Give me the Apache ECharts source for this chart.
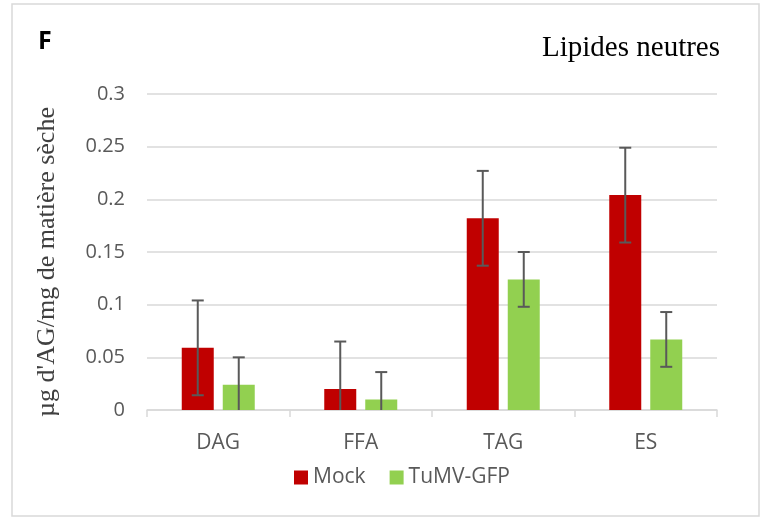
<!DOCTYPE html>
<html>
<head>
<meta charset="utf-8">
<script src="https://cdn.jsdelivr.net/npm/echarts@6/dist/echarts.min.js"></script>
<style>
html,body{margin:0;padding:0;background:#fff;}
#chart{width:761px;height:517px;}
</style>
</head>
<body>
<div id="chart"></div>
<script>
var categories = ['DAG', 'FFA', 'TAG', 'ES'];
var mockValues = [0.059, 0.020, 0.182, 0.204];
var tumvValues = [0.024, 0.010, 0.124, 0.067];
var mockErrors = [0.045, 0.045, 0.045, 0.045];
var tumvErrors = [0.026, 0.026, 0.026, 0.026];
var seriesNames = ['Mock', 'TuMV-GFP'];
var yTickValues = [0, 0.05, 0.1, 0.15, 0.2, 0.25, 0.3];

var BAR_W = 32, BAR_GAP = 9;
var font = '"Open Sans", sans-serif';

function errData(vals, errs) {
  return vals.map(function (v, i) { return [i, v - errs[i], v + errs[i]]; });
}
function makeErrRender(offset) {
  return function (params, api) {
    var i = api.value(0), lo = api.value(1), hi = api.value(2);
    var capBottom = lo >= 0;
    var top = api.coord([i, hi]);
    var bot = api.coord([i, Math.max(lo, 0)]);
    var x = top[0] + offset;
    var half = 6;
    var children = [
      {type: 'line', shape: {x1: x, y1: top[1], x2: x, y2: bot[1]}, style: {stroke: '#595959', lineWidth: 2}},
      {type: 'line', shape: {x1: x - half, y1: top[1], x2: x + half, y2: top[1]}, style: {stroke: '#595959', lineWidth: 2}}
    ];
    if (capBottom) {
      children.push({type: 'line', shape: {x1: x - half, y1: bot[1], x2: x + half, y2: bot[1]}, style: {stroke: '#595959', lineWidth: 2}});
    }
    return {type: 'group', children: children};
  };
}

var chart = echarts.init(document.getElementById('chart'), null, {renderer: 'canvas'});
var off = (BAR_W + BAR_GAP) / 2;
chart.setOption({
  animation: false,
  backgroundColor: '#ffffff',
  grid: {left: 147, right: 44, top: 94, bottom: 107, containLabel: false},
  legend: {
    data: seriesNames,
    left: 289, top: 462,
    itemWidth: 14, itemHeight: 14, itemGap: 24,
    icon: 'rect',
    textStyle: {fontFamily: font, fontSize: 21, color: '#595959'}
  },
  xAxis: {
    type: 'category',
    data: categories,
    axisLine: {lineStyle: {color: '#d9d9d9', width: 1.5}},
    axisTick: {show: true, length: 7, lineStyle: {color: '#d9d9d9', width: 1.5}},
    axisLabel: {fontFamily: font, fontSize: 21, color: '#595959', margin: 23}
  },
  yAxis: {
    type: 'value',
    min: 0, max: 0.3, interval: 0.05,
    axisLine: {show: false},
    axisTick: {show: false},
    splitLine: {lineStyle: {color: '#d9d9d9', width: 1.5}},
    axisLabel: {
      fontFamily: font, fontSize: 20, color: '#595959', margin: 22,
      formatter: function (v) {
        for (var k = 0; k < yTickValues.length; k++) {
          if (Math.abs(yTickValues[k] - v) < 1e-9) return String(yTickValues[k]);
        }
        return '';
      }
    }
  },
  graphic: [
    {type: 'rect', shape: {x: 12, y: 4, width: 747, height: 512}, style: {fill: 'none', stroke: '#d9d9d9', lineWidth: 1.5}, z: -1},
    {type: 'text', x: 38, y: 42, style: {text: 'F', fontFamily: font, fontWeight: 'bold', fontSize: 25, fill: '#000', textVerticalAlign: 'middle'}},
    {type: 'text', x: 720, y: 48, style: {text: 'Lipides neutres', fontFamily: '"Liberation Serif", serif', fontSize: 29, fill: '#000', textAlign: 'right', textVerticalAlign: 'middle'}},
    {type: 'text', x: 47, y: 262, rotation: Math.PI / 2, style: {text: "µg d'AG/mg de matière sèche", fontFamily: '"Liberation Serif", serif', fontSize: 26, fill: '#404040', textAlign: 'center', textVerticalAlign: 'middle'}}
  ],
  series: [
    {name: seriesNames[0], type: 'bar', data: mockValues, barWidth: BAR_W, barGap: (BAR_GAP / BAR_W * 100) + '%', itemStyle: {color: '#C00000'}},
    {name: seriesNames[1], type: 'bar', data: tumvValues, barWidth: BAR_W, itemStyle: {color: '#92D050'}},
    {type: 'custom', name: 'errMock', data: errData(mockValues, mockErrors), renderItem: makeErrRender(-off), z: 10, clip: true, encode: {x: 0, y: [1, 2]}},
    {type: 'custom', name: 'errTumv', data: errData(tumvValues, tumvErrors), renderItem: makeErrRender(off), z: 10, clip: true, encode: {x: 0, y: [1, 2]}}
  ]
});
</script>
</body>
</html>
